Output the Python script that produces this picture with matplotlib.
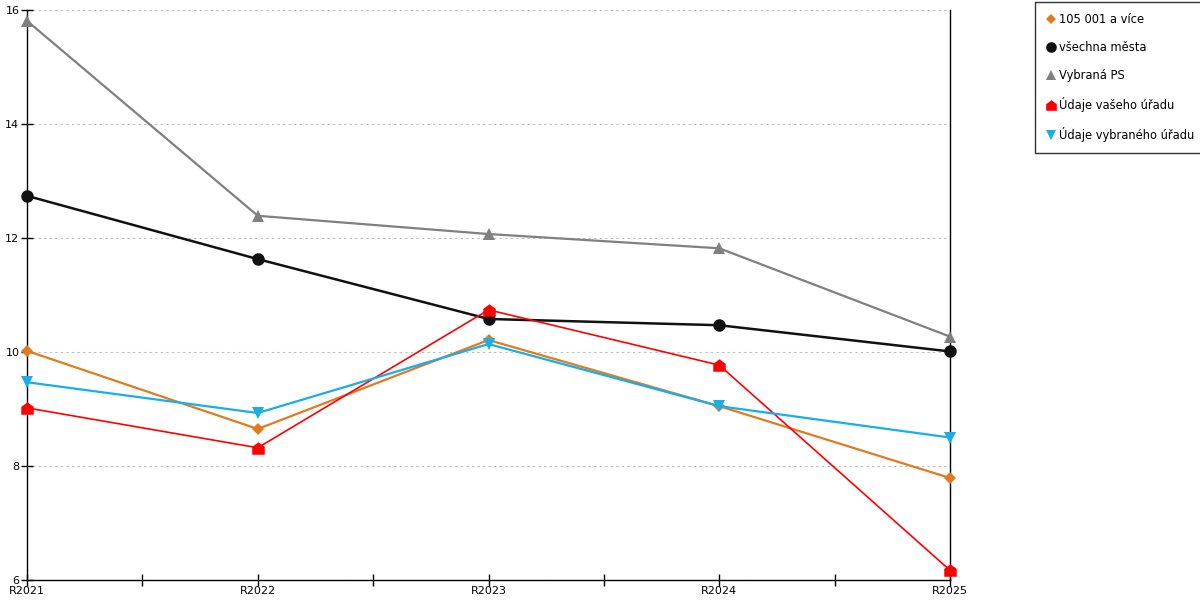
import matplotlib
matplotlib.use("Agg")
import matplotlib.pyplot as plt
from matplotlib.path import Path
from matplotlib.lines import Line2D

# data
categories = ["R2021", "R2022", "R2023", "R2024", "R2025"]
orange_vals = [10.02, 8.65, 10.21, 9.05, 7.79]
black_vals = [12.74, 11.63, 10.58, 10.47, 10.01]
gray_vals = [15.81, 12.39, 12.07, 11.82, 10.27]
red_vals = [9.02, 8.32, 10.74, 9.77, 6.17]
cyan_vals = [9.47, 8.93, 10.14, 9.05, 8.5]

labels = ["105 001 a více", "všechna města", "Vybraná PS",
          "Údaje vašeho úřadu", "Údaje vybraného úřadu"]

plt.rcParams["font.family"] = ["DejaVu Sans"]

# marker ve tvaru domečku
house = Path([(-1, -1), (1, -1), (1, 0.25), (0, 1), (-1, 0.25), (-1, -1)],
             [Path.MOVETO, Path.LINETO, Path.LINETO, Path.LINETO, Path.LINETO, Path.CLOSEPOLY])

series = [
    (orange_vals, "#e07b1f", "D", 6, 1.6),
    (black_vals, "#111111", "o", 9, 1.8),
    (gray_vals, "#808080", "^", 9, 1.6),
    (red_vals, "#ff0000", house, 9, 1.2),
    (cyan_vals, "#18aee8", "v", 9, 1.6),
]

fig = plt.figure(figsize=(12, 6), dpi=100)
ax = fig.add_axes([0.0225, 0.0333, 0.7692, 0.95])

x = range(len(categories))
handles = []
for (vals, color, marker, ms, lw), label in zip(series, labels):
    ax.plot(x, vals, color=color, lw=lw, marker=marker, markersize=ms,
            markeredgewidth=0, clip_on=False, zorder=3)
    handles.append(Line2D([], [], color=color, marker=marker, linestyle="none",
                          markersize=ms * 0.85, markeredgewidth=0, label=label))

ax.set_xlim(0, len(categories) - 1)
ax.set_ylim(6, 16)
ax.set_yticks([6, 8, 10, 12, 14, 16])
ax.set_xticks(list(x))
ax.set_xticklabels(categories)
ax.set_xticks([i + 0.5 for i in range(len(categories) - 1)], minor=True)
ax.tick_params(axis="x", which="both", direction="inout", length=9, width=1,
               labelsize=8, pad=0, colors="black")
ax.tick_params(axis="y", direction="inout", length=9, width=1, labelsize=8, pad=1)

ax.grid(axis="y", linestyle=(0, (2, 3)), color="#bbbbbb", lw=0.8)
ax.set_axisbelow(True)

ax.spines["top"].set_visible(False)
for side in ["left", "bottom", "right"]:
    ax.spines[side].set_color("black")
    ax.spines[side].set_linewidth(1)

fig.legend(handles=handles, loc="upper left", bbox_to_anchor=(0.8625, 0.997),
           frameon=True, fancybox=False, edgecolor="black", fontsize=8.3,
           handlelength=0.8, handletextpad=0.3, labelspacing=1.3,
           borderpad=0.95, borderaxespad=0)

fig.savefig("out.png", dpi=100)
